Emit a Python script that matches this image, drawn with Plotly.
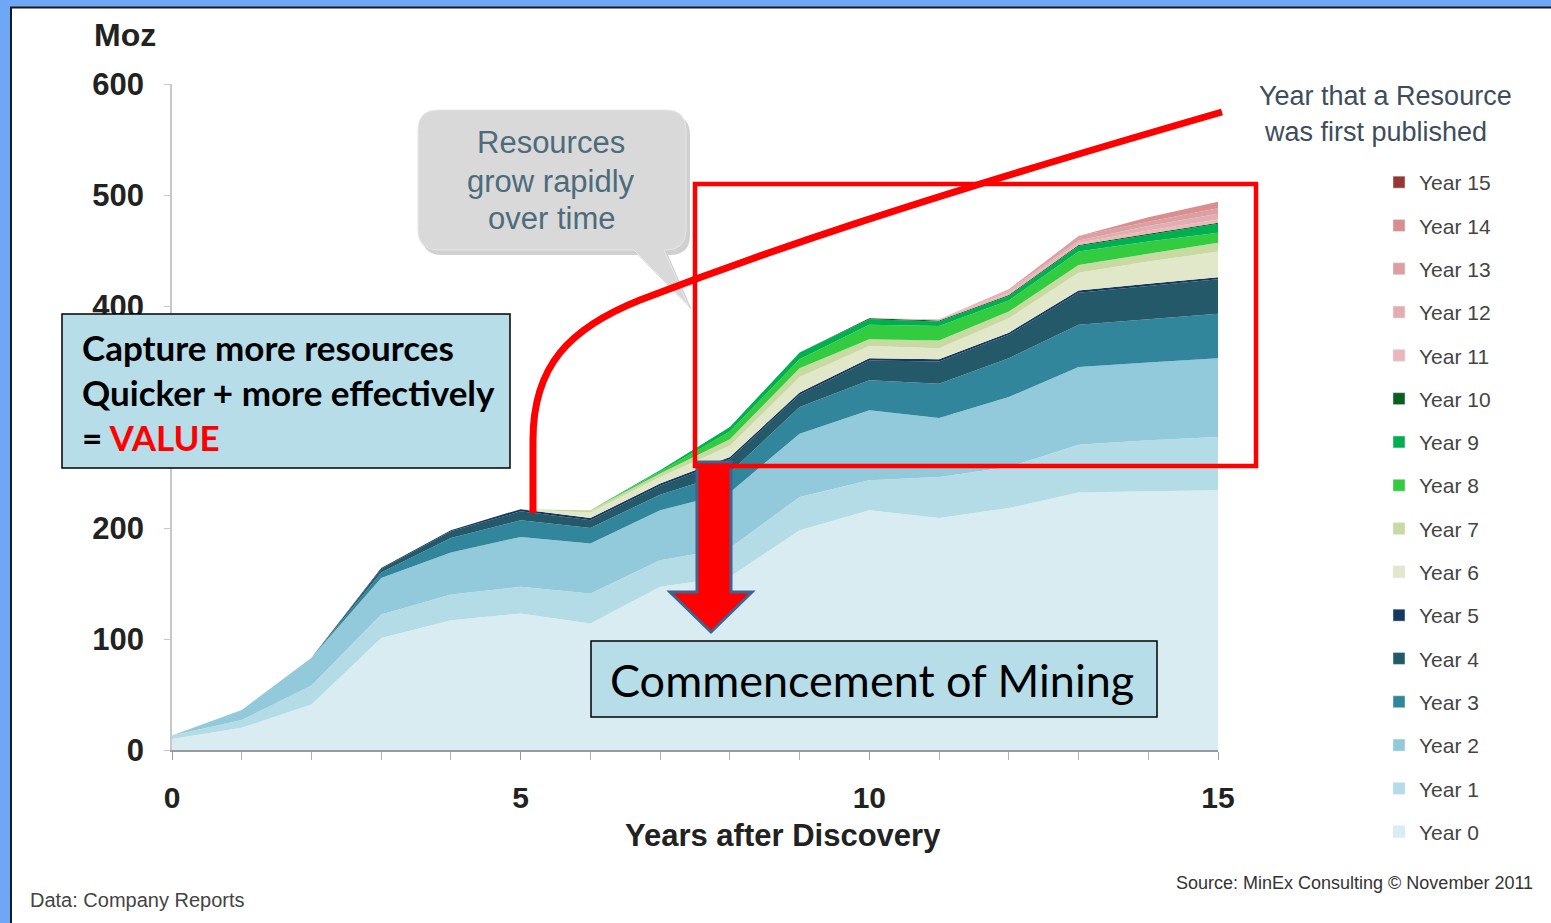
import plotly.graph_objects as go

# ---------------- data ----------------
years_after = list(range(16))
series_names = [f"Year {i}" for i in range(16)]

year0 = [10, 20, 41, 101, 117, 123, 114, 147, 156, 198, 216, 209, 218, 232, 233, 234]
year1 = [3, 7, 17, 21, 23, 24, 27, 24, 26, 30, 27, 37, 37, 43, 46, 48]
year2 = [0, 9, 25, 33, 38, 45, 45, 45, 50, 57, 63, 53, 63, 70, 70, 71]
year3 = [0, 0, 0, 5, 13, 15, 14, 14, 18, 24, 27, 31, 35, 38, 39, 40]
year4 = [0, 0, 0, 3, 6, 8, 7, 8, 12, 11, 18, 20, 21, 29, 30, 31]
year5 = [0, 0, 0, 1, 1, 2, 2, 2, 2, 2, 2, 2, 2, 2, 2, 2]
year6 = [0, 0, 0, 0, 0, 0, 5, 6, 10, 14, 11, 10, 13, 16, 20, 23]
year7 = [0, 0, 0, 0, 0, 0, 2, 3, 6, 8, 6, 7, 6, 7, 7, 8]
year8 = [0, 0, 0, 0, 0, 0, 0, 2, 7, 8, 13, 13, 10, 12, 11, 9]
year9 = [0, 0, 0, 0, 0, 0, 0, 1, 4, 6, 5, 4, 4, 5, 6, 8]
year10 = [0, 0, 0, 0, 0, 0, 0, 0, 0, 0, 1, 1, 1, 1, 1, 1]
year11 = [0, 0, 0, 0, 0, 0, 0, 0, 0, 0, 0, 1, 2, 2, 3, 3]
year12 = [0, 0, 0, 0, 0, 0, 0, 0, 0, 0, 0, 0, 2, 2, 4, 5]
year13 = [0, 0, 0, 0, 0, 0, 0, 0, 0, 0, 0, 0, 1, 4, 4, 5]
year14 = [0, 0, 0, 0, 0, 0, 0, 0, 0, 0, 0, 0, 0, 0, 4, 6]
year15 = [0, 0, 0, 0, 0, 0, 0, 0, 0, 0, 0, 0, 0, 0, 0, 0]
series_values = [year0, year1, year2, year3, year4, year5, year6, year7,
                 year8, year9, year10, year11, year12, year13, year14, year15]

y_ticks = [0, 100, 200, 300, 400, 500, 600]
y_tick_labels = ["0", "100", "200", "", "400", "500", "600"]  # 300 is hidden under the box
x_ticks = [0, 5, 10, 15]

colors = ["#D8ECF2", "#B4DCE7", "#92CADC", "#31869B", "#24596A", "#17375E",
          "#E1E7C9", "#C8DAA2", "#33CC40", "#00B050", "#0A5E1E",
          "#E8B8BC", "#E3AEB2", "#DCA0A2", "#D98E90", "#953735"]

# ---------------- layout helpers (pixel -> paper) ----------------
W, H = 1551, 923
L, R, T, B = 172, 1218, 84, 750


def px(x):
    return (x - L) / (R - L)


def py(y):
    return (B - y) / (B - T)


def path(cmds):
    out = []
    for c in cmds:
        if isinstance(c, str):
            out.append(c)
        else:
            out.append(f"{px(c[0]):.5f},{py(c[1]):.5f}")
    return " ".join(out)


fig = go.Figure()

for name, vals, col in zip(series_names, series_values, colors):
    fig.add_trace(go.Scatter(
        x=years_after, y=vals, name=name, stackgroup="one", mode="lines",
        line=dict(width=0, color=col), fillcolor=col, showlegend=False,
        hovertemplate=name + ": %{y} Moz<extra></extra>"))

# legend entries (Year 15 at the top)
for i in reversed(range(16)):
    fig.add_trace(go.Bar(x=[None], y=[None], name=series_names[i], marker_color=colors[i],
                         legendgroup=f"g{i}", showlegend=True, hoverinfo="skip"))

shapes = []
# slide white area
shapes.append(dict(type="rect", xref="paper", yref="paper", layer="below",
                   x0=px(11), x1=px(1560), y0=py(7.5), y1=py(940),
                   fillcolor="white", line=dict(color="#1a1a1a", width=2)))


def bubble(dx, dy):
    x0, x1, y0, y1, r = 418 + dx, 686 + dx, 110 + dy, 250 + dy, 20
    return path(["M", (x0 + r, y0), "L", (x1 - r, y0), "Q", (x1, y0), (x1, y0 + r),
                 "L", (x1, y1 - r), "Q", (x1, y1), (x1 - r, y1),
                 "L", (664 + dx, y1), "L", (688 + dx, 305 + dy), "L", (634 + dx, y1),
                 "L", (x0 + r, y1), "Q", (x0, y1), (x0, y1 - r),
                 "L", (x0, y0 + r), "Q", (x0, y0), (x0 + r, y0), "Z"])


shapes.append(dict(type="path", xref="paper", yref="paper", path=bubble(4, 5),
                   fillcolor="rgba(120,120,120,0.35)", line=dict(width=0)))
shapes.append(dict(type="path", xref="paper", yref="paper", path=bubble(0, 0),
                   fillcolor="#D9D9D9", line=dict(color="#E6E6E6", width=1)))

# value box
shapes.append(dict(type="rect", xref="paper", yref="paper",
                   x0=px(62), x1=px(510), y0=py(314), y1=py(468),
                   fillcolor="#B7DDE8", line=dict(color="black", width=1.5)))
# commencement box
shapes.append(dict(type="rect", xref="paper", yref="paper",
                   x0=px(591), x1=px(1157), y0=py(641), y1=py(717),
                   fillcolor="#B7DDE8", line=dict(color="black", width=1.5)))
# red down arrow
shapes.append(dict(type="path", xref="paper", yref="paper",
                   path=path(["M", (697, 462), "L", (731, 462), "L", (731, 592),
                              "L", (752, 592), "L", (711, 632), "L", (670, 592),
                              "L", (697, 592), "Z"]),
                   fillcolor="#FF0000", line=dict(color="#41628F", width=3)))
# red rectangle
shapes.append(dict(type="rect", xref="paper", yref="paper",
                   x0=px(695), x1=px(1256), y0=py(184), y1=py(466),
                   line=dict(color="#FF0000", width=4.5)))
# red curve
shapes.append(dict(type="path", xref="paper", yref="paper",
                   path=path(["M", (533, 513), "L", (533, 440),
                              "C", (533, 365), (570, 328), (640, 300),
                              "C", (760, 254), (900, 205), (1222, 112)]),
                   line=dict(color="#FF0000", width=7)))

ann = []
FONT = "Liberation Sans, Arial, sans-serif"
CAL = "Lato, Carlito, Calibri, sans-serif"


def text(x, y, t, size, color="#222", family=FONT, xanchor="center", **kw):
    ann.append(dict(xref="paper", yref="paper", x=px(x), y=py(y), text=t,
                    showarrow=False, xanchor=xanchor, yanchor="middle",
                    font=dict(size=size, color=color, family=family), **kw))


text(92, 35, "<b>Moz</b>", 32, xanchor="left")
text(783, 835, "<b>Years after Discovery</b>", 31)
text(1385, 96, "Year that a Resource", 27, color="#3E4D5C")
text(1375, 132, "was first published", 27, color="#3E4D5C")
text(551, 143, "Resources", 31, color="#4E6B7C")
text(551, 181, "grow rapidly", 31, color="#4E6B7C")
text(551, 218, "over time", 31, color="#4E6B7C")
text(80, 347, "<b>Capture more resources</b>", 35, color="black", family=CAL, xanchor="left")
text(80, 392, "<b>Quicker + more effectively</b>", 35, color="black", family=CAL, xanchor="left")
text(80, 437, "<b>= <span style='color:#FF0000'>VALUE</span></b>", 35, color="black", family=CAL, xanchor="left")
text(872, 680, "Commencement of Mining", 45, color="black", family=CAL)
text(1535, 883, "Source: MinEx Consulting © November 2011", 18, color="#333", xanchor="right")
text(28, 900, "Data: Company Reports", 20, color="#444", xanchor="left")

fig.update_layout(
    width=W, height=H,
    margin=dict(l=L, r=W - R, t=T, b=H - B, pad=0),
    paper_bgcolor="#6DA7F6", plot_bgcolor="rgba(0,0,0,0)",
    shapes=shapes, annotations=ann,
    showlegend=True,
    legend=dict(x=px(1379), y=py(162), xanchor="left", yanchor="top",
                traceorder="grouped", tracegroupgap=13, maxheight=760,
                font=dict(size=21, color="#444", family=FONT),
                bgcolor="rgba(0,0,0,0)", itemwidth=30),
    xaxis=dict(range=[0, 15], tickvals=x_ticks, ticktext=[f"<b>{v}</b>" for v in x_ticks],
               showgrid=False, zeroline=False, showline=True, linecolor="#9A9A9A", linewidth=2,
               ticks="outside", ticklen=8, tickcolor="#9A9A9A",
               minor=dict(dtick=1, ticks="outside", ticklen=8, tickcolor="#B0B0B0"),
               tickfont=dict(size=30, color="#222", family=FONT), ticklabelstandoff=12),
    yaxis=dict(range=[0, 600], tickvals=y_ticks,
               ticktext=[f"<b>{v}</b>" if v else "" for v in y_tick_labels],
               showgrid=False, zeroline=False, showline=True, linecolor="#C8C8C8", linewidth=1.5,
               ticks="outside", ticklen=6, tickcolor="#C8C8C8",
               tickfont=dict(size=31, color="#222", family=FONT), ticklabelstandoff=14),
)

fig.write_html("out.html", config={"displayModeBar": False},
               post_script="document.body.style.margin='0';document.body.style.overflow='hidden';")
